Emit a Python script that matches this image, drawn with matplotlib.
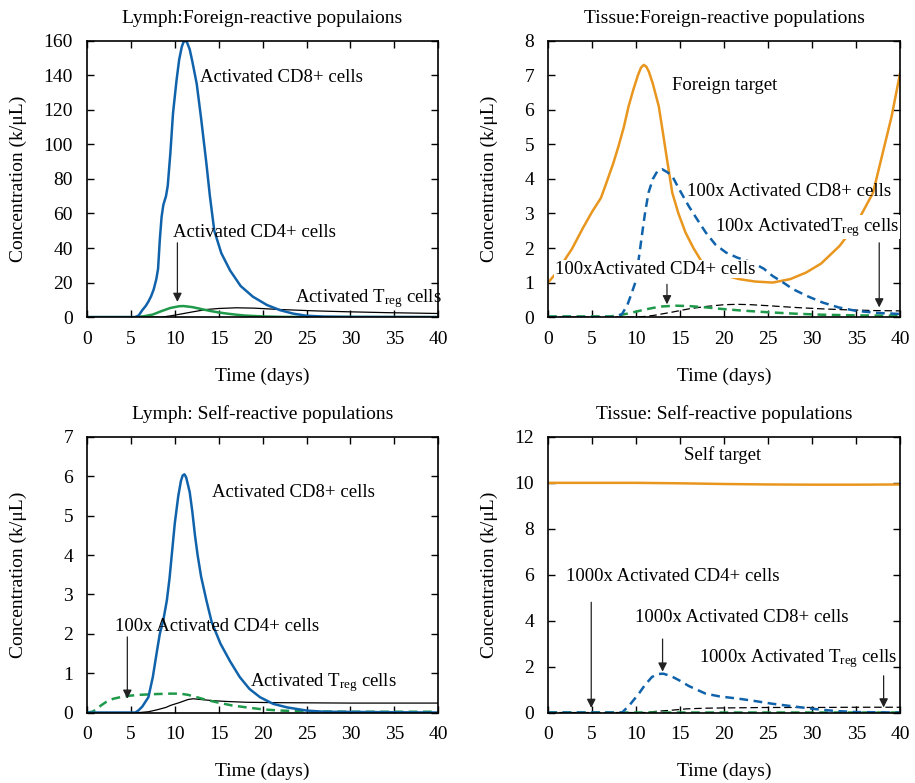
import matplotlib
matplotlib.use("Agg")
import matplotlib.pyplot as plt

# Fonts
plt.rcParams['font.family'] = ['Liberation Serif', 'DejaVu Serif']
plt.rcParams['mathtext.fontset'] = 'custom'
plt.rcParams['mathtext.rm'] = 'Liberation Serif'
plt.rcParams['mathtext.it'] = 'Liberation Serif:italic'

BLUE = '#1063ab'
ORANGE = '#e8961e'
GREEN = '#1f9a4a'

# ---- Lymph: foreign-reactive ----
lf_cd8_t = [0, 5.5, 5.9, 6.3, 6.7, 7.0, 7.3, 7.6, 7.9, 8.1, 8.3, 8.5, 8.7, 9.0, 9.2, 9.5, 9.8,
            10.2, 10.5, 10.8, 11.0, 11.2, 11.4, 11.7, 12.0, 12.5, 13.0, 13.6, 14.0, 14.5, 15.3, 16.3,
            17.5, 18.9, 20.5, 22, 23.5, 25, 27, 30, 40]
lf_cd8 = [0, 0, 1, 4, 6.5, 9, 12, 16, 22, 28, 45, 58, 65, 70, 76, 95, 118,
          137, 149, 156.5, 159.3, 160, 159, 155, 148, 135, 115, 89, 70, 50, 37, 27,
          18, 11.8, 7, 4, 2, 0.8, 0.3, 0.1, 0]
lf_cd4_t = [0, 5.5, 6.5, 7.5, 8.5, 9.5, 10.5, 11.0, 12, 13, 14, 15, 16, 17, 18, 20, 22, 25, 40]
lf_cd4 = [0, 0, 0.5, 1.5, 3.5, 5.3, 6.3, 6.4, 5.8, 4.7, 3.6, 2.7, 2.0, 1.4, 0.9, 0.4, 0.15, 0.05, 0]
lf_treg_t = [0, 8.5, 9.5, 10.6, 12, 13.6, 15, 17, 19, 22, 26, 29.6, 34, 40]
lf_treg = [0, 0, 0.7, 1.7, 3.0, 4.4, 5.0, 5.4, 5.2, 4.4, 3.6, 3.1, 2.6, 2.1]

# ---- Tissue: foreign-reactive ----
tf_target_t = [0, 1, 2, 2.7, 4, 5, 6, 6.5, 7.4, 8.0, 8.6, 9.14, 9.7, 10.2, 10.55, 10.86, 11.15, 11.45,
               11.9, 12.57, 13.0, 13.5, 14.1, 14.8, 15.6, 16.5, 17.5, 18.5, 19.6, 21.7, 23.5, 25.5,
               27.5, 29.3, 31, 33.1, 35, 36.9, 38.1, 39, 40]
tf_target = [1.0, 1.3, 1.7, 1.97, 2.6, 3.05, 3.45, 3.8, 4.45, 4.95, 5.5, 6.1, 6.6, 7.0, 7.22, 7.3, 7.25, 7.1,
             6.75, 6.1, 5.4, 4.57, 3.6, 3.0, 2.45, 2.0, 1.58, 1.38, 1.24, 1.1, 1.03, 1.0,
             1.1, 1.29, 1.55, 2.06, 2.7, 3.6, 4.86, 5.8, 7.1]
tf_cd8_t = [0, 7.5, 8.4, 9, 9.5, 9.9, 10.3, 10.7, 11.0, 11.4, 11.9, 12.4, 12.95, 13.5, 14.1, 15, 16,
            17, 17.9, 19, 20.2, 21.5, 23.2, 24.5, 25.5, 26.7, 27.8, 29.5, 31.2, 33, 35, 37.5, 40]
tf_cd8 = [0, 0, 0.09, 0.35, 0.7, 1.0, 1.7, 2.45, 3.0, 3.6, 4.0, 4.22, 4.28, 4.2, 4.08, 3.65, 3.2,
          2.8, 2.45, 2.1, 1.87, 1.72, 1.58, 1.4, 1.19, 1.0, 0.81, 0.6, 0.42, 0.28, 0.18, 0.12, 0.09]
tf_cd4_t = [0, 7, 8, 9, 10, 11, 12, 13, 14.5, 16, 18, 20, 22, 25, 28, 31, 35, 40]
tf_cd4 = [0.02, 0.02, 0.05, 0.1, 0.16, 0.22, 0.27, 0.31, 0.33, 0.32, 0.28, 0.23, 0.19, 0.14, 0.1, 0.07, 0.05, 0.04]
tf_treg_t = [0, 10, 11, 12, 14, 16, 18, 20, 21.5, 23, 25, 28, 31, 34, 37, 40]
tf_treg = [0, 0, 0.02, 0.05, 0.14, 0.24, 0.31, 0.36, 0.37, 0.36, 0.33, 0.28, 0.24, 0.21, 0.19, 0.18]

# ---- Lymph: self-reactive ----
ls_cd8_t = [0, 5.5, 5.85, 6.3, 7.0, 7.5, 8.0, 8.3, 8.7, 9.1, 9.4, 9.7, 10.0, 10.4, 10.7, 10.9, 11.1, 11.3,
            11.7, 12.0, 12.3, 12.6, 13.0, 13.6, 14.2, 15.2, 16.3, 17.4, 18.5, 19.7, 21.2, 22.8, 25, 27, 40]
ls_cd8 = [0, 0, 0.05, 0.15, 0.39, 0.9, 1.6, 2.0, 2.35, 2.85, 3.4, 4.1, 4.8, 5.5, 5.88, 6.02, 6.05, 5.97,
          5.6, 5.1, 4.5, 4.0, 3.45, 2.85, 2.3, 1.75, 1.3, 0.9, 0.6, 0.39, 0.22, 0.13, 0.05, 0.02, 0]
ls_cd4_t = [0, 0.6, 1.1, 1.6, 2.2, 3, 4, 5, 6, 7, 8, 9.5, 10.6, 11.5, 12.5, 13.6, 15, 16.5, 18.2,
            20, 22, 25, 30, 40]
ls_cd4 = [0, 0.02, 0.08, 0.18, 0.27, 0.35, 0.4, 0.43, 0.45, 0.46, 0.47, 0.48, 0.48, 0.45, 0.39,
          0.32, 0.25, 0.18, 0.13, 0.08, 0.05, 0.03, 0.02, 0.02]
ls_treg_t = [0, 6, 7, 8, 9, 9.5, 10.5, 11.5, 12.1, 13, 14.4, 16, 18.2, 22, 30, 40]
ls_treg = [0, 0, 0.02, 0.07, 0.13, 0.18, 0.25, 0.33, 0.35, 0.33, 0.3, 0.28, 0.26, 0.25, 0.24, 0.24]

# ---- Tissue: self-reactive ----
ts_target_t = [0, 10, 15, 20, 25, 30, 35, 40]
ts_target = [10.0, 10.0, 9.98, 9.95, 9.93, 9.92, 9.92, 9.93]
ts_cd8_t = [0, 8.4, 9.2, 10.3, 11, 11.8, 12.5, 13.1, 14, 14.9, 16, 17.9, 19.5, 21.7, 23.5, 25.5,
            28, 30.1, 32.5, 35, 40]
ts_cd8 = [0, 0, 0.3, 0.82, 1.2, 1.55, 1.68, 1.69, 1.58, 1.4, 1.15, 0.82, 0.7, 0.6, 0.5, 0.38,
          0.26, 0.16, 0.07, 0.02, 0]
ts_cd4_t = [0, 40]
ts_cd4 = [0.02, 0.02]
ts_treg_t = [0, 11, 12.2, 14, 15.7, 18, 20, 25, 30, 35, 40]
ts_treg = [0, 0, 0.05, 0.1, 0.16, 0.19, 0.2, 0.22, 0.22, 0.23, 0.23]

TREG = r'T$_{\rm reg}$'
FS = 14
AFS = 13.5

fig = plt.figure(figsize=(9.15, 7.83), dpi=100)
ax1 = fig.add_axes([0.095, 0.595, 0.384, 0.353])
ax2 = fig.add_axes([0.599, 0.595, 0.385, 0.353])
ax3 = fig.add_axes([0.095, 0.090, 0.384, 0.352])
ax4 = fig.add_axes([0.599, 0.090, 0.385, 0.352])

dash_thick = (0, (3.5, 2.2))
dash_thin = (0, (6, 3))


def style(ax, title, ymax, ystep, ylab_x):
    ax.set_xlim(0, 40)
    ax.set_ylim(0, ymax)
    ax.set_xticks(range(0, 41, 5))
    ax.set_yticks([i * ystep for i in range(int(round(ymax / ystep)) + 1)])
    ax.tick_params(direction='in', top=True, right=True, labelsize=FS, length=5, width=1, pad=10)
    for s in ax.spines.values():
        s.set_linewidth(1.2)
    ax.set_title(title, fontsize=FS, pad=13)
    ax.set_xlabel('Time (days)', fontsize=FS)
    ax.set_ylabel('Concentration (k/μL)', fontsize=FS)
    ax.xaxis.set_label_coords(0.5, -0.183)
    ax.yaxis.set_label_coords(ylab_x, 0.5)


def arrow(ax, x, y0, y1):
    ax.annotate('', xy=(x, y1), xytext=(x, y0),
                arrowprops=dict(arrowstyle='-|>', color='#222222', lw=0.9,
                                mutation_scale=13, shrinkA=0, shrinkB=0))


# Panel 1
ax1.plot(lf_treg_t, lf_treg, color='k', lw=0.9)
ax1.plot(lf_cd4_t, lf_cd4, color=GREEN, lw=1.8)
ax1.plot(lf_cd8_t, lf_cd8, color=BLUE, lw=1.8)
style(ax1, 'Lymph:Foreign-reactive populaions', 160, 20, -0.17)
ax1.text(12.9, 138.5, 'Activated CD8+ cells', fontsize=AFS, va='center')
ax1.text(9.8, 49, 'Activated CD4+ cells', fontsize=AFS, va='center')
arrow(ax1, 10.3, 43, 8.8)
ax1.text(23.7, 11, 'Activated ' + TREG + ' cells', fontsize=AFS, va='center')

# Panel 2
ax2.plot(tf_target_t, tf_target, color=ORANGE, lw=1.8)
ax2.plot(tf_treg_t, tf_treg, color='k', lw=0.9, linestyle=dash_thin)
ax2.plot(tf_cd4_t, tf_cd4, color=GREEN, lw=1.8, linestyle=dash_thick)
ax2.plot(tf_cd8_t, tf_cd8, color=BLUE, lw=1.8, linestyle=dash_thick)
style(ax2, 'Tissue:Foreign-reactive populations', 8, 1, -0.142)
ax2.text(14.1, 6.7, 'Foreign target', fontsize=AFS, va='center')
ax2.text(15.8, 3.64, '100x Activated CD8+ cells', fontsize=AFS, va='center')
ax2.text(18.9, 2.6, '100x Activated' + TREG + ' cells', fontsize=AFS, va='center',
         bbox=dict(facecolor='white', edgecolor='none', pad=0.5))
arrow(ax2, 37.6, 2.15, 0.28)
ax2.text(0.8, 1.39, '100xActivated CD4+ cells', fontsize=AFS, va='center',
         bbox=dict(facecolor='white', edgecolor='none', pad=0.5))
arrow(ax2, 13.5, 0.95, 0.37)

# Panel 3
ax3.plot(ls_treg_t, ls_treg, color='k', lw=0.9)
ax3.plot(ls_cd4_t, ls_cd4, color=GREEN, lw=1.8, linestyle=dash_thick)
ax3.plot(ls_cd8_t, ls_cd8, color=BLUE, lw=1.8)
style(ax3, 'Lymph: Self-reactive populations', 7, 1, -0.17)
ax3.text(14.2, 5.6, 'Activated CD8+ cells', fontsize=AFS, va='center')
ax3.text(3.2, 2.19, '100x Activated CD4+ cells', fontsize=AFS, va='center')
arrow(ax3, 4.6, 1.92, 0.35)
ax3.text(18.6, 0.76, 'Activated ' + TREG + ' cells', fontsize=AFS, va='center')

# Panel 4
ax4.plot(ts_target_t, ts_target, color=ORANGE, lw=1.8)
ax4.plot(ts_treg_t, ts_treg, color='k', lw=0.9, linestyle=dash_thin)
ax4.plot(ts_cd4_t, ts_cd4, color=GREEN, lw=1.8, linestyle=dash_thick)
ax4.plot(ts_cd8_t, ts_cd8, color=BLUE, lw=1.8, linestyle=dash_thick)
style(ax4, 'Tissue: Self-reactive populations', 12, 2, -0.142)
ax4.text(15.4, 11.2, 'Self target', fontsize=AFS, va='center')
ax4.text(2.06, 5.94, '1000x Activated CD4+ cells', fontsize=AFS, va='center')
arrow(ax4, 4.9, 4.8, 0.2)
ax4.text(9.9, 4.15, '1000x Activated CD8+ cells', fontsize=AFS, va='center')
arrow(ax4, 13.0, 3.2, 1.78)
ax4.text(17.1, 2.36, '1000x Activated ' + TREG + ' cells', fontsize=AFS, va='center')
arrow(ax4, 38.1, 1.6, 0.22)

fig.savefig('out.png', dpi=100)
